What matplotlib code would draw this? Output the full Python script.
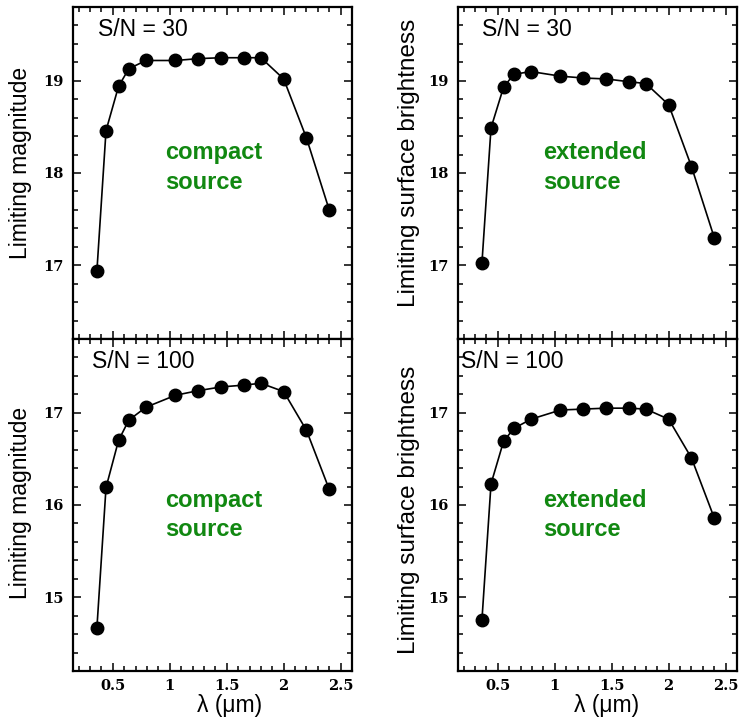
import matplotlib
matplotlib.use("Agg")
import matplotlib.pyplot as plt
from matplotlib.ticker import MultipleLocator

# Data
wavelength = [0.36, 0.44, 0.55, 0.64, 0.79, 1.05, 1.25, 1.45, 1.65, 1.80, 2.00, 2.20, 2.40]
compact_sn30 = [16.94, 18.46, 18.94, 19.13, 19.22, 19.22, 19.24, 19.25, 19.25, 19.25, 19.02, 18.38, 17.60]
extended_sn30 = [17.02, 18.49, 18.93, 19.07, 19.10, 19.05, 19.03, 19.02, 18.99, 18.97, 18.74, 18.07, 17.30]
compact_sn100 = [14.67, 16.19, 16.70, 16.92, 17.06, 17.19, 17.24, 17.28, 17.30, 17.32, 17.23, 16.81, 16.17]
extended_sn100 = [14.75, 16.23, 16.69, 16.83, 16.93, 17.03, 17.04, 17.05, 17.05, 17.04, 16.93, 16.51, 15.86]

x_ticks = [0.5, 1, 1.5, 2, 2.5]
x_tick_labels = ["0.5", "1", "1.5", "2", "2.5"]
sn_labels = ["S/N = 30", "S/N = 100"]
ylabels = ["Limiting magnitude", "Limiting surface brightness"]
source_labels = ["compact\nsource", "extended\nsource"]
xlabel = "λ (μm)"

fig = plt.figure(figsize=(7.40, 7.17), dpi=100)

W, H = 740, 717
lefts = [73, 458]
tops = [7, 339]
aw, ah = 279, 332

panels = {
    (0, 0): (compact_sn30, (16.2, 19.8), [17, 18, 19]),
    (0, 1): (extended_sn30, (16.2, 19.8), [17, 18, 19]),
    (1, 0): (compact_sn100, (14.2, 17.8), [15, 16, 17]),
    (1, 1): (extended_sn100, (14.2, 17.8), [15, 16, 17]),
}

tickfont = dict(family="DejaVu Serif", weight="bold", size=10.5)
sansfont = ["Liberation Sans", "DejaVu Sans"]

sn_offsets = {(0, 0): 25, (0, 1): 24, (1, 0): 19, (1, 1): 3}
xlabel_pos = [0.56, 0.534]
ylabel_x = [-0.147, -0.136]
ylabel_size = [16.5, 17.5]
ylabel_y = {(0, 0): 0.53, (0, 1): 0.53, (1, 0): 0.505, (1, 1): 0.485}

for (r, c), (vals, ylim, yt) in panels.items():
    ax = fig.add_axes([lefts[c] / W, 1 - (tops[r] + ah) / H, aw / W, ah / H])
    ax.plot(wavelength, vals, color="black", lw=1.2, marker="o", ms=9,
            mfc="black", mec="black")
    ax.set_xlim(0.15, 2.6)
    ax.set_ylim(*ylim)
    ax.set_xticks(x_ticks)
    ax.xaxis.set_minor_locator(MultipleLocator(0.1))
    ax.set_yticks(yt)
    ax.yaxis.set_minor_locator(MultipleLocator(0.2))
    for sp in ax.spines.values():
        sp.set_linewidth(1.6)
    ax.tick_params(which="both", direction="in", top=True, right=True, width=1.1)
    ax.tick_params(which="major", length=6, pad=7)
    ax.tick_params(axis="x", which="major", pad=6)
    ax.tick_params(which="minor", length=3.5)
    ax.set_yticklabels([str(v) for v in yt], fontdict=tickfont)
    if r == 1:
        ax.set_xticklabels(x_tick_labels, fontdict=tickfont)
        ax.set_xlabel(xlabel, family=sansfont, fontsize=16.5)
        ax.xaxis.set_label_coords(xlabel_pos[c], -0.068)
    else:
        ax.set_xticklabels([])
    ax.set_ylabel(ylabels[c], family=sansfont, fontsize=ylabel_size[c])
    ax.yaxis.set_label_coords(ylabel_x[c], ylabel_y[(r, c)])
    ax.text(sn_offsets[(r, c)] / aw, 1 - 22 / ah, sn_labels[r], transform=ax.transAxes,
            family=sansfont, fontsize=16.5, ha="left", va="center")
    tx = [0.33, 0.305][c]
    ty = [0.517, 0.47][r]
    ax.text(tx, ty, source_labels[c], transform=ax.transAxes, family=sansfont,
            fontsize=17, fontweight="bold", color="#118811", ha="left", va="center",
            linespacing=1.37)

fig.savefig("out.png", dpi=100)
